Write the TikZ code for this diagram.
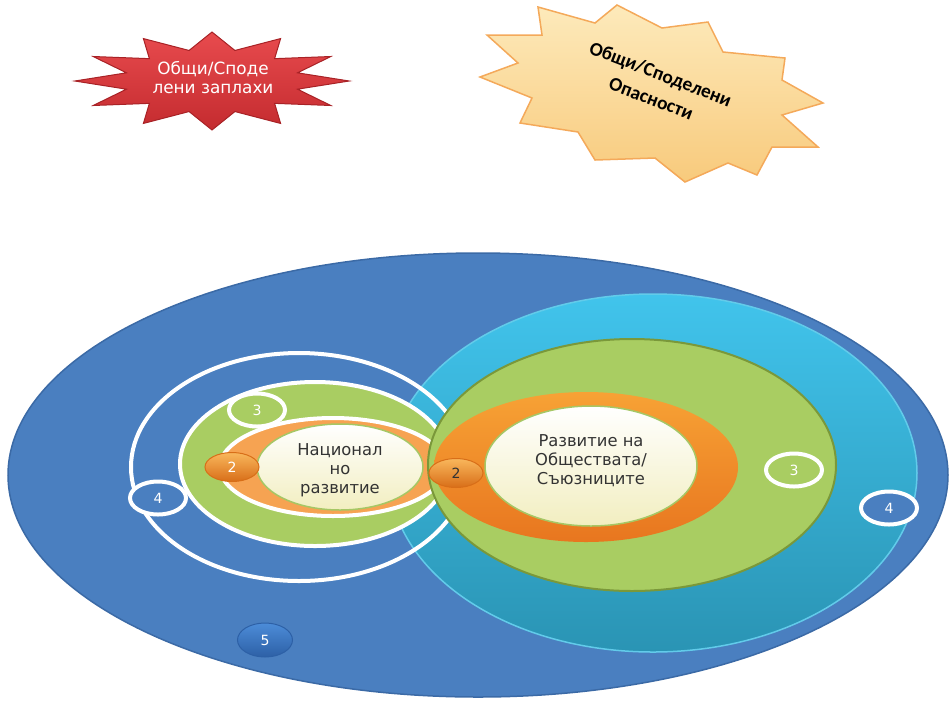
\documentclass[tikz,border=0pt]{standalone}
\usepackage{fontspec}
\setmainfont{DejaVu Sans}
\newfontfamily\calfont{Carlito}
\usetikzlibrary{shapes.geometric}
\definecolor{bigblue}{HTML}{4A7FC0}
\definecolor{blueedge}{HTML}{3B6AA6}
\definecolor{cyantop}{HTML}{41C4EC}
\definecolor{cyanbot}{HTML}{2A94B4}
\definecolor{cyanedge}{HTML}{62CBEA}
\definecolor{leafgreen}{HTML}{A9CD62}
\definecolor{oliveedge}{HTML}{7A983A}
\definecolor{paleorange}{HTML}{F6A352}
\definecolor{orangetop}{HTML}{F7A235}
\definecolor{orangebot}{HTML}{E8761F}
\definecolor{creamtop}{HTML}{FFFFFF}
\definecolor{creambot}{HTML}{F2EEC0}
\definecolor{creamedge}{HTML}{A6C765}
\definecolor{textgray}{HTML}{333333}
\definecolor{redtop}{HTML}{E84B4E}
\definecolor{redbot}{HTML}{C42B2F}
\definecolor{rededge}{HTML}{A82226}
\definecolor{yellowtop}{HTML}{FDEABB}
\definecolor{yellowbot}{HTML}{F8CA7C}
\definecolor{yellowedge}{HTML}{F4A95A}
\definecolor{balltop}{HTML}{F9B75C}
\definecolor{ballbot}{HTML}{D86E18}
\definecolor{fivetop}{HTML}{4C8CD8}
\definecolor{fivebot}{HTML}{2D60A6}
\begin{document}
\begin{tikzpicture}[x=0.2mm, y=-0.2mm,
    ring/.style={draw=white, line width=0.8mm},
    ball/.style={ellipse, inner sep=0pt, minimum width=11.2mm, minimum height=6.6mm,
      font=\fontsize{8}{8}\selectfont, text=white},
    orangeball/.style={ball, minimum width=10.8mm, minimum height=5.8mm,
      top color=balltop, bottom color=ballbot, draw=ballbot, line width=0.2mm},
    label/.style={align=center, text=textgray, font=\fontsize{9.3}{10.8}\selectfont}]
  \useasboundingbox (0,0) rectangle (952,706);

  % stars
  \node[star, star points=12, star point ratio=1.55, minimum size=19.6mm, xscale=2.8,
    transform shape, top color=redtop, bottom color=redbot, draw=rededge, line width=0.2mm]
    (redstar) at (212,81) {};
  \node[align=center, text=white, font=\fontsize{9.6}{10.8}\selectfont] (redtext) at (213,78)
    {Общи/Споде\\лени заплахи};

  \draw[top color=yellowtop, bottom color=yellowbot, draw=yellowedge, line width=0.3mm]
    (538,7) -- (595,23) -- (617,5) -- (662,28) -- (708,22) -- (723,52) -- (785,58)
    -- (782,80) -- (823,103) -- (782,115) -- (818,147) -- (772,147) -- (757,175)
    -- (728,163) -- (685,182) -- (655,158) -- (595,160) -- (578,132) -- (520,123)
    -- (532,98) -- (480,77) -- (518,63) -- (487,35) -- (542,35) -- cycle;
  \node[rotate=-21, align=center, font={\calfont\bfseries\fontsize{11}{15}\selectfont}]
    (yellowtext) at (656,86) {Общи/Споделени\\Опасности};

  % ellipses
  \draw[fill=bigblue, draw=blueedge, line width=0.3mm] (478,475) ellipse (470 and 222);
  \draw[top color=cyantop, bottom color=cyanbot, draw=cyanedge, line width=0.3mm]
    (653,473) ellipse (264 and 179);

  \draw[ring] (299,467) ellipse (168 and 114);
  \draw[ring, fill=leafgreen] (315,464) ellipse (135 and 82);
  \draw[ring, fill=paleorange] (333,467) ellipse (113 and 49);
  \draw[top color=creamtop, bottom color=creambot, draw=creamedge, line width=0.3mm]
    (340,467) ellipse (83 and 43);

  \draw[fill=leafgreen, draw=oliveedge, line width=0.4mm] (632,465) ellipse (204 and 126);
  \shade[top color=orangetop, bottom color=orangebot] (586,467) ellipse (152 and 75);
  \draw[top color=creamtop, bottom color=creambot, draw=creamedge, line width=0.3mm]
    (591,466) ellipse (106 and 60);

  \node[label] (national) at (340,470) {Национал\\но\\развитие};
  \node[label] (allies) at (591,461) {Развитие на\\Обществата/\\Съюзниците};

  % numbered marks
  \node[ball, ring, fill=leafgreen] (threeleft) at (257,410) {3};
  \node[ball, ring, fill=bigblue] (fourleft) at (158,498) {4};
  \node[orangeball] (twoleft) at (232,467) {2};
  \node[orangeball, text=textgray] (tworight) at (456,473) {2};
  \node[ball, ring, fill=leafgreen] (threeright) at (794,470) {3};
  \node[ball, ring, fill=bigblue] (fourright) at (889,508) {4};
  \node[ball, minimum width=11mm, minimum height=6.8mm, top color=fivetop,
    bottom color=fivebot, draw=fivebot, line width=0.2mm] (five) at (265,640) {5};
\end{tikzpicture}
\end{document}
